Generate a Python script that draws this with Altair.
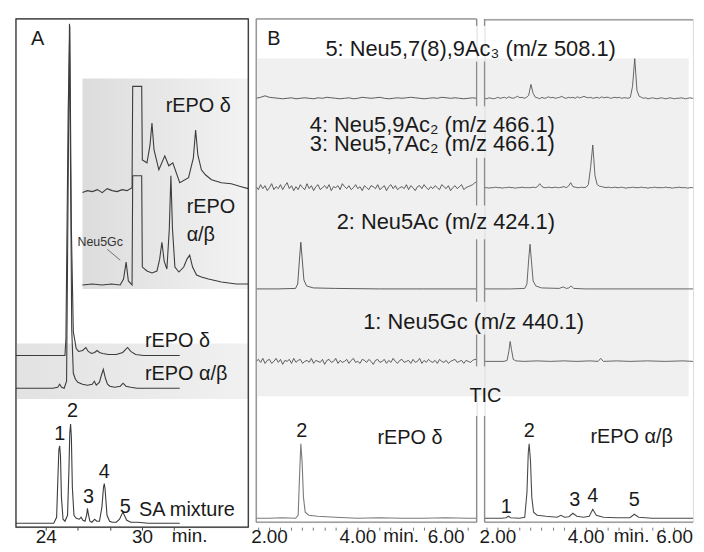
import altair as alt
import pandas as pd
import numpy as np

FONT = "Liberation Sans"

# ================= Panel A (HPLC, time in min, signal in a.u.) =================
A_XDOM = [22.145, 36.62]
A_YDOM = [0, 512]

# SA mixture (bottom trace)
sa_t = [22.14, 24.50, 24.68, 24.76, 24.82, 24.87, 24.92, 24.98, 25.08, 25.20,
        25.36, 25.45, 25.50, 25.55, 25.60, 25.66, 25.76, 25.90, 26.10, 26.20,
        26.32, 26.45, 26.55, 26.60, 26.65, 26.75, 26.88, 27.05, 27.18, 27.35,
        27.50, 27.60, 27.65, 27.70, 27.82, 27.98, 28.15, 28.40, 28.60, 28.74,
        28.82, 28.90, 29.05, 29.30, 29.70, 30.40, 31.20, 32.35]
sa_v = [4, 4, 10, 50, 78, 82, 72, 30, 8, 6,
        12, 60, 95, 104, 90, 40, 12, 9, 8, 10,
        7, 6, 12, 19, 14, 6, 5, 8, 6, 6,
        20, 40, 44, 38, 12, 6, 5, 5, 8, 13,
        15, 12, 7, 5, 5, 4, 4, 4]

# rEPO delta (full scale)
d_t = [22.14, 24.9, 25.20, 25.26, 25.40, 25.50, 25.60, 25.72, 25.90, 26.05,
       26.30, 26.50, 26.65, 26.85, 27.05, 27.20, 27.35, 27.55, 27.90, 28.40,
       28.80, 29.10, 29.30, 29.60, 30.1, 32.35]
d_v = [173, 173, 173, 190, 420, 505, 300, 197, 180, 177,
       178, 181, 177, 175, 176, 178, 176, 175, 174, 174,
       176, 181, 177, 174, 173, 173]

# rEPO alpha/beta (full scale)
ab_t = [22.14, 24.43, 24.75, 24.87, 24.99, 25.15, 25.30, 25.48, 25.62, 25.72,
        25.85, 26.0, 26.29, 26.6, 26.9, 27.03, 27.15, 27.35, 27.45, 27.59,
        27.72, 27.85, 28.0, 28.3, 28.65, 28.82, 29.0, 29.3, 29.7, 32.35]
ab_v = [140, 140, 141, 144, 141, 140, 147, 507, 200, 155,
        149, 146, 144, 143, 144, 147, 143, 146, 152, 159,
        150, 144, 142, 141, 142, 145, 142, 141, 140, 140]

# inset: rEPO delta (expanded)
di_t = [26.29, 26.60, 26.91, 27.22, 27.52, 27.83, 28.14, 28.45, 28.76, 29.07,
        29.38, 29.42, 29.98, 30.02, 30.31, 30.50, 30.62, 30.75, 31.05, 31.42,
        31.67, 31.92, 32.35, 32.90, 33.20, 33.34, 33.48, 33.70, 33.95, 34.33,
        34.95, 35.56, 36.18, 36.62]
di_v = [337, 339, 338, 340, 337, 341, 339, 338, 340, 339,
        342, 444, 444, 370, 367, 385, 407, 380, 360, 374,
        364, 367, 347, 352, 372, 400, 375, 360, 355, 350,
        347, 346, 343, 341]

# inset: rEPO alpha/beta (expanded)
abi_t = [26.29, 26.9, 27.5, 28.1, 28.64, 28.85, 29.01, 29.15, 29.38, 29.42,
         29.98, 30.02, 30.31, 30.62, 30.93, 31.10, 31.24, 31.38, 31.55, 31.70,
         31.80, 31.90, 32.05, 32.30, 32.60, 32.80, 32.97, 33.15, 33.40, 33.70,
         34.14, 34.95, 35.87, 36.62]
abi_v = [244, 245, 244, 245, 244, 250, 267, 248, 244, 354,
         354, 262, 258, 256, 258, 270, 287, 268, 260, 300,
         354, 300, 262, 257, 262, 270, 274, 262, 254, 252,
         250, 247, 245, 245]

A_ticks = [24, 26, 28, 30, 32]

A_lab_left = ["rEPO δ", "rEPO", "α/β", "rEPO δ", "rEPO α/β", "SA mixture"]
A_lab_left_t = [31.48, 32.78, 32.78, 30.18, 30.18, 29.81]
A_lab_left_v = [424, 322, 294, 187, 154, 17]

A_lab_c = ["A", "1", "2", "3", "4", "5"]
A_lab_c_t = [23.5, 24.87, 25.67, 26.66, 27.65, 28.95]
A_lab_c_v = [492, 94, 117, 30, 56, 20]

# ================= Panel B (LC-MS, time in min) =================
BL_XDOM = [1.71, 6.699]
BR_XDOM = [1.71, 6.429]
B_YDOM = [0, 507]

# TIC rEPO delta
ticL_t = [1.71, 2.0, 2.3, 2.6, 2.66, 2.69, 2.72, 2.75, 2.78, 2.82,
          2.9, 3.1, 3.5, 4.0, 4.5, 5.0, 5.5, 6.0, 6.5, 6.699]
ticL_v = [4, 4, 4.5, 4, 7, 45, 79, 60, 25, 10,
          7, 6, 5, 4, 4.5, 4, 4, 4.5, 4, 4]
# TIC rEPO alpha/beta
ticR_t = [1.71, 2.1, 2.2, 2.25, 2.3, 2.5, 2.62, 2.67, 2.70, 2.72,
          2.75, 2.78, 2.82, 2.9, 3.1, 3.35, 3.44, 3.52, 3.62, 3.71,
          3.80, 3.95, 4.08, 4.16, 4.24, 4.4, 4.7, 5.0, 5.10, 5.2,
          5.5, 6.0, 6.429]
ticR_v = [4, 4, 4.5, 6, 4.5, 4, 5, 30, 70, 79,
          62, 25, 10, 7, 6, 5, 7, 5, 5.5, 9,
          6, 5, 6, 13, 7, 5, 4.5, 4.5, 8, 5,
          4, 4, 4]

# m/z 424.1
m424L_t = [1.71, 2.2, 2.6, 2.65, 2.69, 2.72, 2.75, 2.79, 2.85, 3.0, 3.5, 4.5, 5.5, 6.699]
m424L_v = [235, 235, 235.5, 240, 265, 282, 266, 244, 238, 236, 235.5, 235, 235, 235]
m424R_t = [1.71, 2.3, 2.62, 2.67, 2.71, 2.74, 2.77, 2.81, 2.87, 3.0,
           3.4, 3.49, 3.56, 3.62, 3.67, 3.73, 4.0, 5.0, 6.429]
m424R_v = [235, 235, 235.5, 240, 265, 280, 264, 243, 238, 236,
           235.5, 237, 235.5, 236, 238, 235.5, 235, 235, 235]

# m/z 440.1 right
m440R_t = [1.71, 2.15, 2.22, 2.26, 2.29, 2.32, 2.36, 2.42, 2.6, 2.9,
           3.2, 3.5, 3.8, 4.1, 4.28, 4.34, 4.40, 4.7, 5.0, 5.4,
           5.8, 6.2, 6.429]
m440R_v = [162, 162, 163, 172, 182, 174, 164, 162.5, 162, 162.5,
           162, 162.5, 162, 162.5, 162, 165, 162, 162.5, 162, 162.5,
           162, 162.5, 162]

# noisy traces sampled every 0.05 min (0.10 for m/z 508 left); values read as offsets
base440, base466, base508 = 162, 337, 427
m440L_dev = [0, 2, -1, 3, -2, 1, 2, -2, 0, 3, -1, 2, -3, 1, 0, 2, -2, 3, -1, 1,
             2, -2, 0, 1, -1, 3, -2, 1, 0, -1, 2, -3, 1, 2, -1, 0, 3, -2, 1, -1,
             0, 2, -2, 1, 3, -1, 0, -2, 2, 1, -1, 2, 0, -3, 1, 2, -1, 0, 2, -2,
             1, -1, 3, 0, -2, 1, 2, -1, 0, 1, -2, 2, -1, 0, 3, -2, 1, -1, 2, 0,
             -1, 1, -2, 2, 0, -1, 1, -2, 0, 1, 2, -1, 0, 1, -2, 1, 0, -1, 1, 2]
m466L_dev = [1, -2, 3, -1, 2, -3, 0, 4, -2, 1, -1, 3, -2, 2, 5, -1, 2, -3, 1, -2,
             3, 0, -2, 4, -1, 2, -3, 1, 3, -2, 0, 2, -1, 3, -3, 1, 0, 2, -2, 4,
             1, -1, 2, -2, 0, 3, -1, 1, -3, 2, 0, -2, 2, 1, -1, 3, -2, 0, 2, -3,
             1, 3, -1, 2, -2, 0, 1, -1, 3, -2, 2, 0, -3, 1, 2, -1, 3, 0, -2, 1,
             -1, 2, 0, -2, 3, 1, -1, 2, -3, 0, 2, -1, 1, 3, -2, 0, 1, 2, 3, 5]
m508L_dev = [0, 1, 2.5, 1, 0.5, 0, -0.5, 0, 0.5, -0.5, 0, 0.5, 0, -0.5, 0.5, 0, 1, 0.5, 0, -0.5,
             0, 0.5, -0.5, 0, 1, 0.5, 0, 0.5, 1, 0, -0.5, 0, 0.5, 0, 0.5, 1, 0.5, 0, -0.5, 0,
             0.5, 0, 1, 0.5, 0, 0.5, 0, -0.5, 0, 0.5]
m466R_dev = [0, 0, -0.5, 0, 0, 0.5, 0, 0, -0.5, 0, 0, 0.5, 0, 0, -0.5, 0, 0, 0.5, 0, 0,
             0, 0, 0.5, 0, 1, 4, 1, 0, 0, 0.5, 0, 0, 0.5, 0, 0, 0.5, 1, 0, 1.5, 5,
             1, 0.5, 0, 0, 0.5, 0, 0.5, 3, 20, 43, 12, 3, 1.5, 1, 0.5, 0, 0.5, 0, 0, 0.5,
             0, 0, 0.5, 0, -0.5, 0, 0, 0.5, 0, 0, 0, 0.5, 0, 0, -0.5, 0, 0, 0.5, 0, 0,
             0, 0, 0.5, 0, 0, -0.5, 0, 0, 0.5, 0, 0, 0, -0.5, 0, 0]
m508R_dev = [0, -0.5, 0.5, 0, -0.5, 0, 1, 0, 0.5, 1, 0, 1.5, 0.5, 0, 1, 2, 0.5, 1, 0, 1,
             3, 14, 5, 1, 0.5, -0.5, 1, 0, 0.5, 1.5, 0.5, 1, 0, 0.5, 1, 2, 0.5, 0, 1, 0.5,
             1, 0, 1.5, 0.5, 1, 2, 1, 0.5, 1, 0, 0.5, 1, 0, 1.5, 0.5, 1, 1, 0, 0.5, 1,
             0.5, 1, 0, 0.5, 0.5, 0, 1, 12, 40, 8, 2, 1, 0, 0.5, -0.5, 0, 0.5, 0, -0.5, 0,
             0.5, 0, -0.5, 0, 0.5, 0, -0.5, 0, 0, 0.5, 0, -0.5, 0, 0.5, 0]

gridL = np.round(1.71 + 0.05 * np.arange(len(m440L_dev)), 3)
gridL10 = np.round(1.71 + 0.10 * np.arange(len(m508L_dev)), 3)
gridR = np.round(1.71 + 0.05 * np.arange(len(m466R_dev)), 3)

BL_ticks = [1.75, 2.0, 2.25, 2.5, 2.75, 3.0, 3.25, 3.5, 3.75, 4.0, 4.25, 4.5,
            4.75, 5.0, 5.25, 5.5, 5.75, 6.0, 6.25, 6.5]
BR_ticks = [1.75, 2.0, 2.25, 2.5, 2.75, 3.0, 3.25, 3.5, 3.75, 4.0, 4.25, 4.5,
            4.75, 5.0, 5.25, 5.5, 5.75, 6.0, 6.25]

# broken inner borders of the two B sub-panels (v ranges)
gap_seg_lo = [500, 419, 319, 222, 157, 0]
gap_seg_hi = [507, 464, 367, 285, 189, 107]

BL_lab = ["B", "2", "rEPO δ"]
BL_lab_t = [2.11, 2.74, 5.19]
BL_lab_v = [487, 92, 85]

BR_lab_c = ["5: Neu5,7(8),9Ac₃ (m/z 508.1)", "2: Neu5Ac (m/z 424.1)",
            "1: Neu5Gc (m/z 440.1)"]
BR_lab_c_t = [1.395, 0.834, 1.463]
BR_lab_c_v = [477, 302, 202]

BR_lab_s = ["TIC", "2", "1", "3", "4", "5", "rEPO α/β"]
BR_lab_s_t = [1.73, 2.72, 2.20, 3.75, 4.16, 5.10, 5.04]
BR_lab_s_v = [127, 92, 15, 22, 26, 22, 86]

BR_lab_l = ["4: Neu5,9Ac₂  (m/z 466.1)", "3: Neu5,7Ac₂  (m/z 466.1)"]
BR_lab_l_t = [-2.245, -2.245]
BR_lab_l_v = [400, 381]

# axis unit labels ("min."), placed on the tick-label baseline
A_unit_t, A_unit_v = [32.97], [-15]
BL_unit_t, BR_unit_t, B_unit_v = [4.99], [5.04], [-20]


# ================= helpers =================
def tdf(name, t, v):
    assert len(t) == len(v), name
    return pd.DataFrame({"trace": name, "t": list(t), "v": list(v), "idx": range(len(t))})


class Panel:
    def __init__(self, xdom, ydom, axis):
        self.xdom, self.ydom, self.axis = xdom, ydom, axis

    def X(self, field="t"):
        return alt.X(f"{field}:Q", scale=alt.Scale(domain=self.xdom, nice=False, zero=False),
                     axis=self.axis, title=None)

    def Y(self, field="v"):
        return alt.Y(f"{field}:Q", scale=alt.Scale(domain=self.ydom, nice=False, zero=False),
                     axis=None, title=None)

    def rect(self, t1, t2, v1, v2, **mk):
        df = pd.DataFrame({"t1": [t1], "t2": [t2], "v1": [v1], "v2": [v2]})
        return alt.Chart(df).mark_rect(**mk).encode(
            x=self.X("t1"), x2="t2:Q", y=self.Y("v1"), y2="v2:Q")

    def rules(self, t1, t2, v1, v2, **mk):
        df = pd.DataFrame({"t1": t1, "t2": t2, "v1": v1, "v2": v2})
        return alt.Chart(df).mark_rule(**mk).encode(
            x=self.X("t1"), x2="t2:Q", y=self.Y("v1"), y2="v2:Q")

    def lines(self, df, **mk):
        return alt.Chart(df).mark_line(**mk).encode(
            x=self.X(), y=self.Y(), detail="trace:N", order="idx:Q")

    def text(self, labels, t, v, align, size, color="#1a1a1a", baseline="middle"):
        df = pd.DataFrame({"label": labels, "t": t, "v": v})
        return alt.Chart(df).mark_text(align=align, baseline=baseline, fontSize=size,
                                       font=FONT, color=color).encode(
            x=self.X(), y=self.Y(), text="label:N")


def grad(c1, c2):
    return alt.LinearGradient(gradient="linear",
                              stops=[alt.GradientStop(color=c1, offset=0),
                                     alt.GradientStop(color=c2, offset=1)],
                              x1=0, x2=1, y1=0, y2=0)


TICK_FS = 19

# ================= Panel A chart =================
axisA = alt.Axis(values=A_ticks, labelExpr="(datum.value==24||datum.value==30) ? datum.label : ''",
                 tickSize=3, domain=False, grid=False, labelFontSize=TICK_FS, labelPadding=12,
                 labelBaseline="alphabetic",
                 tickColor="#444", labelColor="#1a1a1a", labelFont=FONT, format="d",
                 labelOverlap=False, labelFlush=False, title=None)
PA = Panel(A_XDOM, A_YDOM, axisA)

dfA = pd.concat([tdf("sa", sa_t, sa_v), tdf("d", d_t, d_v), tdf("ab", ab_t, ab_v),
                 tdf("di", di_t, di_v), tdf("abi", abi_t, abi_v)])

chartA = alt.layer(
    PA.rect(A_XDOM[0], A_XDOM[1], 129, 185, fill=grad("#e2e2e2", "#f1f1f1")),
    PA.rect(26.29, A_XDOM[1], 240, 452, fill=grad("#dcdcdc", "#f3f3f3")),
    PA.lines(dfA, color="#3c3c3c", strokeWidth=1.1),
    PA.rules([27.83], [28.64], [280], [269], color="#555", strokeWidth=0.8),
    PA.text(A_lab_left, A_lab_left_t, A_lab_left_v, "left", 20),
    PA.text(A_lab_c, A_lab_c_t, A_lab_c_v, "center", 20),
    PA.text(["Neu5Gc"], [25.98], [287], "left", 12.5, "#333"),
    PA.text(["min."], A_unit_t, A_unit_v, "center", TICK_FS, baseline="alphabetic"),
    PA.rect(A_XDOM[0], A_XDOM[1], 0, 512, fillOpacity=0, stroke="#222", strokeWidth=1.2),
).properties(width=234, height=512)


# ================= Panel B charts =================
def axisB(vals):
    return alt.Axis(values=vals,
                    labelExpr="(datum.value==2||datum.value==4||datum.value==6) ? format(datum.value, '.2f') : ''",
                    tickSize=3, offset=5, domain=False, grid=False, labelFontSize=TICK_FS, labelPadding=12,
                    labelBaseline="alphabetic",
                    tickColor="#777", labelColor="#1a1a1a", labelFont=FONT,
                    labelOverlap=False, labelFlush=False, title=None)


PBL = Panel(BL_XDOM, B_YDOM, axisB(BL_ticks))
PBR = Panel(BR_XDOM, B_YDOM, axisB(BR_ticks))

dfBL_tic = tdf("tic", ticL_t, ticL_v)
dfBL_ms = pd.concat([tdf("424", m424L_t, m424L_v),
                     tdf("440", list(gridL) + [6.699], [base440 + d for d in m440L_dev] + [base440 + 2]),
                     tdf("466", list(gridL) + [6.699], [base466 + d for d in m466L_dev] + [base466 + 6]),
                     tdf("508", list(gridL10) + [6.699], [base508 + d for d in m508L_dev] + [base508])])

nseg = len(gap_seg_lo)
chartBL = alt.layer(
    PBL.rect(1.71, 11.50, 127, 467, fill="#f0f0f0"),
    PBL.lines(dfBL_tic, color="#7a7a7a", strokeWidth=1.1),
    PBL.lines(dfBL_ms, color="#4a4a4a", strokeWidth=0.9),
    PBL.rules([BL_XDOM[1]] * nseg + [1.71, 1.71, 1.71],
              [BL_XDOM[1]] * nseg + [1.71, BL_XDOM[1], BL_XDOM[1]],
              gap_seg_lo + [0, 507, 0], gap_seg_hi + [507, 507, 0],
              color="#8c8c8c", strokeWidth=1.3),
    PBL.text(BL_lab, BL_lab_t, BL_lab_v, "center", 20),
    PBL.text(["min."], BL_unit_t, B_unit_v, "center", TICK_FS, baseline="alphabetic"),
).properties(width=222, height=507)

dfBR_tic = tdf("tic", ticR_t, ticR_v)
dfBR_ms = pd.concat([tdf("424", m424R_t, m424R_v),
                     tdf("440", m440R_t, m440R_v),
                     tdf("466", list(gridR) + [6.429], [base466 + d for d in m466R_dev] + [base466]),
                     tdf("508", list(gridR) + [6.429], [base508 + d for d in m508R_dev] + [base508])])

chartBR = alt.layer(
    PBR.lines(dfBR_tic, color="#4a4a4a", strokeWidth=1.1),
    PBR.lines(dfBR_ms, color="#555555", strokeWidth=0.9),
    PBR.rules([1.71] * nseg + [1.71, 1.71],
              [1.71] * nseg + [BR_XDOM[1], BR_XDOM[1]],
              gap_seg_lo + [506, 0], gap_seg_hi + [506, 0],
              color="#8c8c8c", strokeWidth=1.3),
    PBR.text(BR_lab_c, BR_lab_c_t, BR_lab_c_v, "center", 22),
    PBR.text(BR_lab_s, BR_lab_s_t, BR_lab_s_v, "center", 20),
    PBR.text(BR_lab_l, BR_lab_l_t, BR_lab_l_v, "left", 22),
    PBR.text(["min."], BR_unit_t, B_unit_v, "center", TICK_FS, baseline="alphabetic"),
).properties(width=210, height=507)

chart = alt.hconcat(chartA, chartBL, chartBR, spacing=8, bounds="flush").properties(
    padding={"left": 5, "top": 7, "right": 0, "bottom": -4}
).configure_view(stroke=None).configure(background="white")

chart.save("out.html", embed_options={"renderer": "svg", "actions": False})
